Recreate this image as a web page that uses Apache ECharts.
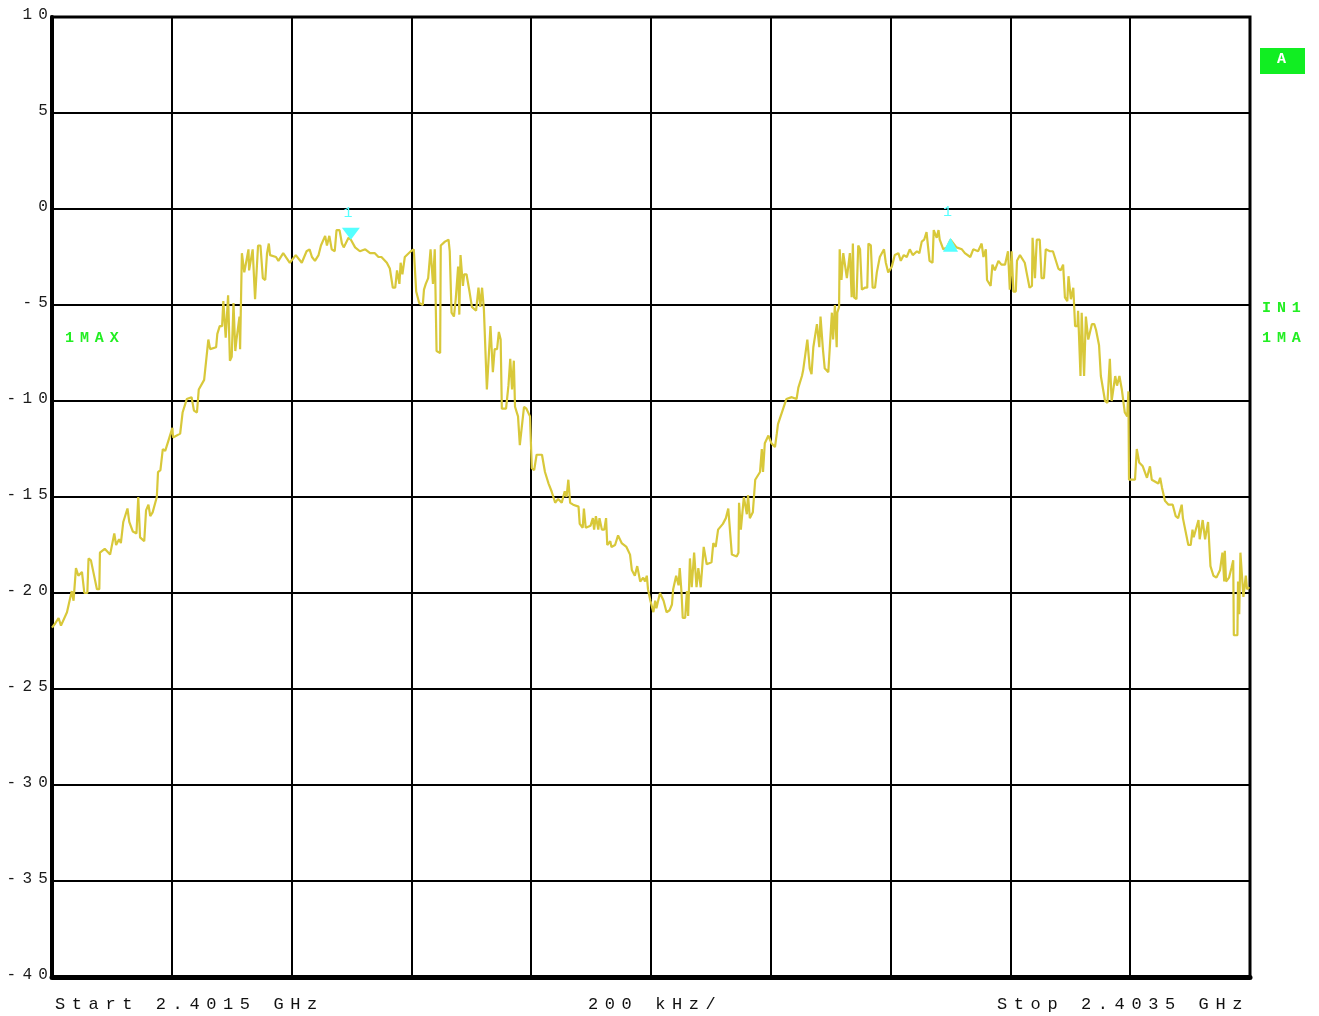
<!DOCTYPE html>
<html><head><meta charset="utf-8">
<script src="https://cdn.jsdelivr.net/npm/echarts@6/dist/echarts.min.js"></script>
<style>html,body{margin:0;padding:0;background:#fff}#c{width:1319px;height:1016px}</style>
</head><body><div id="c"></div>
<script>
// ---- data (frequency offset from start in kHz, level in dB) ----
const freqKHz = [
0,5,11,15,18,25,33,36,39,40,
44,50,54,59,61,65,69,75,79,80,
88,97,104,107,112,115,119,126,129,135,
141,144,147,154,157,161,164,168,175,177,
181,185,189,194,201,202,214,218,225,233,
237,242,245,254,261,264,274,276,280,284,
286,290,294,297,300,303,306,308,313,314,
317,321,324,328,329,335,339,342,344,348,
352,356,359,362,364,374,378,386,397,407,
417,425,430,434,439,445,449,456,459,463,
467,472,475,480,484,487,495,499,506,514,
523,531,539,545,550,559,564,569,573,576,
580,582,585,589,599,604,608,613,619,621,
624,628,632,636,639,642,648,649,656,662,
664,667,671,674,678,680,682,686,688,692,
697,701,704,708,712,715,718,721,726,728,
732,736,739,743,746,749,751,758,762,765,
768,771,773,778,781,784,788,792,798,801,
805,809,818,823,829,834,840,845,851,856,
859,862,865,870,879,881,886,888,891,899,
903,905,908,912,914,918,922,925,927,932,
934,940,945,951,959,965,968,973,977,982,
987,990,993,995,999,1004,1007,1009,1015,1021,
1026,1031,1035,1037,1042,1046,1048,1051,1053,1057,
1060,1062,1065,1068,1072,1076,1079,1083,1088,1093,
1101,1104,1108,1112,1120,1125,1129,1135,1143,1146,
1147,1150,1155,1160,1162,1165,1170,1174,1182,1185,
1187,1190,1196,1201,1207,1210,1212,1226,1235,1243,
1246,1252,1254,1261,1265,1268,1271,1277,1281,1283,
1287,1290,1296,1302,1304,1307,1310,1311,1314,1315,
1318,1321,1327,1329,1332,1335,1337,1339,1343,1346,
1349,1352,1357,1361,1363,1367,1370,1374,1377,1382,
1389,1392,1396,1402,1407,1413,1417,1422,1427,1432,
1437,1444,1448,1452,1456,1460,1465,1470,1472,1477,
1480,1482,1488,1494,1500,1510,1519,1524,1533,1538,
1546,1552,1555,1559,1561,1567,1570,1574,1580,1585,
1591,1596,1599,1602,1605,1609,1611,1616,1619,1624,
1627,1632,1636,1637,1641,1644,1647,1649,1652,1656,
1659,1666,1671,1674,1680,1684,1688,1691,1695,1697,
1701,1705,1708,1712,1713,1717,1719,1723,1726,1730,
1736,1740,1743,1748,1751,1754,1758,1762,1766,1769,
1775,1778,1782,1786,1791,1795,1797,1798,1808,1811,
1815,1821,1828,1833,1836,1838,1847,1850,1853,1858,
1864,1871,1876,1880,1886,1888,1891,1897,1901,1904,
1906,1914,1916,1921,1925,1930,1934,1939,1944,1950,
1954,1957,1958,1960,1965,1969,1972,1973,1979,1980,
1982,1984,1989,1993,1995,1999
];
const levelDb = [
-21.8,-21.6,-21.3,-21.7,-21.6,-21.0,-19.9,-20.4,-20.3,-18.7,
-19.1,-18.9,-20.0,-20.0,-18.2,-18.3,-18.9,-19.8,-19.8,-17.9,
-17.7,-18.0,-16.9,-17.5,-17.2,-17.4,-16.3,-15.6,-16.3,-16.8,
-16.9,-15.0,-17.1,-17.3,-15.7,-15.4,-16.0,-15.8,-15.0,-13.7,
-13.6,-12.5,-12.6,-12.1,-11.4,-11.9,-11.7,-10.6,-9.9,-9.8,
-10.5,-10.6,-9.4,-8.9,-6.8,-7.3,-7.2,-6.5,-6.1,-6.1,
-4.8,-6.7,-4.5,-7.9,-7.7,-4.9,-7.4,-6.8,-5.6,-7.3,
-2.3,-3.3,-2.8,-2.1,-3.2,-2.1,-4.7,-4.8,-1.9,-1.9,
-3.6,-3.7,-2.3,-1.8,-2.4,-2.5,-2.7,-2.3,-2.8,-2.4,
-2.8,-2.2,-2.1,-2.5,-2.7,-2.4,-1.9,-1.4,-1.9,-1.4,
-2.1,-2.2,-1.1,-1.1,-1.8,-2.0,-1.5,-1.6,-2.0,-2.2,
-2.1,-2.3,-2.3,-2.5,-2.5,-2.8,-3.1,-4.1,-4.1,-3.2,
-3.9,-2.8,-3.4,-2.5,-2.2,-2.1,-4.3,-4.9,-5.0,-4.2,
-3.9,-3.6,-2.1,-3.9,-2.1,-7.4,-7.5,-1.9,-1.7,-1.6,
-2.2,-5.4,-5.6,-4.7,-3.0,-5.5,-2.4,-4.0,-3.4,-3.4,
-4.3,-5.1,-5.0,-5.3,-4.1,-5.1,-4.1,-5.2,-9.4,-9.5,
-6.1,-8.5,-7.3,-7.3,-6.4,-6.8,-10.4,-10.4,-9.2,-7.8,
-9.4,-7.9,-10.3,-10.8,-12.3,-12.4,-10.3,-10.4,-10.8,-13.5,
-13.6,-12.8,-12.8,-13.7,-14.3,-14.7,-15.3,-15.1,-15.3,-14.7,
-15.0,-14.1,-15.3,-15.4,-15.5,-16.4,-16.6,-15.6,-16.6,-16.5,
-16.1,-16.7,-16.0,-16.7,-16.1,-16.7,-16.7,-16.1,-17.5,-17.3,
-17.6,-17.5,-17.0,-17.4,-17.6,-18.0,-18.8,-19.1,-18.6,-19.4,
-19.2,-19.4,-19.1,-19.8,-20.4,-21.0,-20.4,-20.8,-20.0,-20.4,
-21.0,-20.9,-20.6,-19.8,-19.1,-19.6,-18.7,-20.0,-21.3,-21.3,
-19.9,-21.2,-18.2,-19.7,-17.9,-19.7,-18.7,-19.7,-17.6,-18.5,
-18.4,-17.4,-17.6,-16.7,-16.4,-16.1,-15.6,-18.0,-18.1,-17.9,
-15.3,-16.7,-15.0,-15.9,-14.9,-16.1,-15.8,-14.1,-13.7,-12.5,
-13.7,-12.2,-11.8,-12.2,-12.4,-11.7,-11.2,-9.9,-9.8,-9.9,
-9.3,-8.7,-8.4,-6.8,-8.3,-8.6,-7.2,-6.0,-7.2,-5.6,
-7.3,-8.3,-8.5,-5.4,-6.8,-5.0,-7.2,-5.4,-5.1,-2.1,
-3.7,-2.3,-3.6,-3.7,-2.3,-4.6,-1.8,-4.6,-4.7,-1.9,
-2.1,-4.2,-4.1,-4.1,-1.8,-1.9,-4.1,-4.1,-3.3,-2.5,
-2.1,-2.8,-3.3,-3.0,-2.4,-2.3,-2.7,-2.4,-2.5,-2.1,
-2.4,-2.2,-2.3,-1.7,-1.6,-1.2,-2.7,-2.8,-1.1,-1.5,
-1.1,-1.6,-2.1,-2.0,-1.6,-2.0,-2.1,-2.3,-2.5,-2.1,
-2.2,-1.8,-2.5,-2.1,-3.7,-4.0,-2.9,-3.2,-2.7,-2.9,
-2.9,-2.2,-4.2,-2.2,-4.3,-4.3,-2.7,-2.4,-2.3,-2.8,
-3.3,-4.1,-4.0,-1.5,-3.6,-1.6,-1.5,-1.6,-3.6,-3.6,
-2.1,-2.2,-2.2,-2.1,-3.1,-3.2,-2.9,-4.6,-4.8,-3.5,
-4.7,-4.1,-6.1,-6.1,-5.3,-8.7,-5.4,-8.7,-5.6,-6.8,
-6.0,-6.0,-6.3,-7.1,-8.7,-8.8,-10.0,-10.1,-7.8,-10.0,
-8.7,-9.2,-8.7,-9.4,-10.6,-10.8,-9.5,-14.1,-14.1,-12.5,
-13.2,-13.4,-14.0,-13.4,-14.1,-14.2,-14.3,-14.0,-14.5,-15.2,
-15.4,-15.4,-16.0,-16.1,-15.4,-16.1,-16.0,-17.5,-17.5,-16.7,
-17.1,-16.2,-17.2,-16.2,-17.2,-16.3,-18.6,-19.1,-19.2,-18.8,
-17.9,-19.4,-17.8,-19.4,-19.2,-18.7,-18.3,-22.2,-22.2,-19.4,
-21.1,-17.9,-20.2,-19.1,-19.8,-19.7
];
const yMin = -40, yMax = 10, yStep = 5;
const xSpanKHz = 2000, xDivKHz = 200;
const markerFreq = [499, 1500];
const markerLevel = [-1.6, -1.6];
const markerText = ['1', '1'];
const startText = 'Start 2.4015 GHz';
const spanText = '200 kHz/';
const stopText = 'Stop 2.4035 GHz';
const traceText = '1MAX';
const sideTexts = ['IN1', '1MA'];
const screenText = 'A';

// instrument-style wide letter spacing for all drawn text
(function () {
  const p = CanvasRenderingContext2D.prototype;
  if (!('letterSpacing' in p)) return;
  const f = p.fillText;
  p.fillText = function (t, x, y, w) {
    const m = /(\d+(?:\.\d+)?)px/.exec(this.font);
    const s = m ? (parseFloat(m[1]) * 0.39).toFixed(1) : 0;
    const prev = this.letterSpacing;
    this.letterSpacing = s + 'px';
    const r = (w === undefined) ? f.call(this, t, x, y) : f.call(this, t, x, y, w);
    this.letterSpacing = prev;
    return r;
  };
})();

const mono = '"Liberation Mono", "DejaVu Sans Mono", monospace';
const green = '#22ee22';
const cyan = '#55ffff';

const chart = echarts.init(document.getElementById('c'), null, {renderer: 'canvas', width: 1319, height: 1016});
chart.setOption({
  animation: false,
  backgroundColor: '#ffffff',
  grid: {left: 52, right: 69, top: 17, bottom: 39, show: true, borderColor: '#000', borderWidth: 3, backgroundColor: 'transparent'},
  xAxis: {
    type: 'value', min: 0, max: xSpanKHz, interval: xDivKHz,
    axisLine: {show: true, onZero: false, lineStyle: {color: '#000', width: 5}},
    axisTick: {show: false}, axisLabel: {show: false},
    splitLine: {show: true, lineStyle: {color: '#000', width: 2}}
  },
  yAxis: {
    type: 'value', min: yMin, max: yMax, interval: yStep,
    axisLine: {show: true, onZero: false, lineStyle: {color: '#000', width: 4}},
    axisTick: {show: false},
    axisLabel: {color: '#1a1a1a', fontFamily: mono, fontSize: 16, margin: -2, verticalAlign: 'bottom', lineHeight: 5},
    splitLine: {show: true, lineStyle: {color: '#000', width: 2}}
  },
  series: [{
    type: 'line',
    data: freqKHz.map((f, i) => [f, levelDb[i]]),
    symbol: 'none', showSymbol: false,
    lineStyle: {color: '#d8c83a', width: 2.2},
    z: 3,
    markPoint: {
      silent: true, animation: false,
      data: [
        {coord: [markerFreq[0], markerLevel[0]], symbol: 'path://M0,0L18,0L9,12Z', symbolSize: [18, 12], symbolOffset: [0, -6],
          itemStyle: {color: cyan},
          label: {show: true, formatter: markerText[0], position: 'top', distance: 7, color: cyan, fontFamily: mono, fontSize: 15}},
        {coord: [markerFreq[1], markerLevel[1]], symbol: 'triangle', symbolSize: [15, 14], symbolOffset: [0, 5],
          itemStyle: {color: cyan},
          label: {show: true, formatter: markerText[1], position: 'top', distance: 18, color: cyan, fontFamily: mono, fontSize: 15}}
      ]
    }
  }],
  graphic: [
    {type: 'text', x: 55, y: 1004, style: {text: startText, fill: '#111', font: '17px ' + mono, align: 'left', verticalAlign: 'middle'}},
    {type: 'text', x: 588, y: 1004, style: {text: spanText, fill: '#111', font: '17px ' + mono, align: 'left', verticalAlign: 'middle'}},
    {type: 'text', x: 997, y: 1004, style: {text: stopText, fill: '#111', font: '17px ' + mono, align: 'left', verticalAlign: 'middle'}},
    {type: 'text', x: 65, y: 338, style: {text: traceText, fill: green, font: 'bold 15px ' + mono, align: 'left', verticalAlign: 'middle'}},
    {type: 'text', x: 1262, y: 308, style: {text: sideTexts[0], fill: green, font: 'bold 15px ' + mono, align: 'left', verticalAlign: 'middle'}},
    {type: 'text', x: 1262, y: 338, style: {text: sideTexts[1], fill: green, font: 'bold 15px ' + mono, align: 'left', verticalAlign: 'middle'}},
    {type: 'rect', shape: {x: 1260, y: 48, width: 45, height: 26}, style: {fill: '#11ee22'}},
    {type: 'text', x: 1277, y: 59, style: {text: screenText, fill: '#fff', font: 'bold 15px ' + mono, align: 'left', verticalAlign: 'middle'}, z: 10}
  ]
});
</script>
</body></html>
